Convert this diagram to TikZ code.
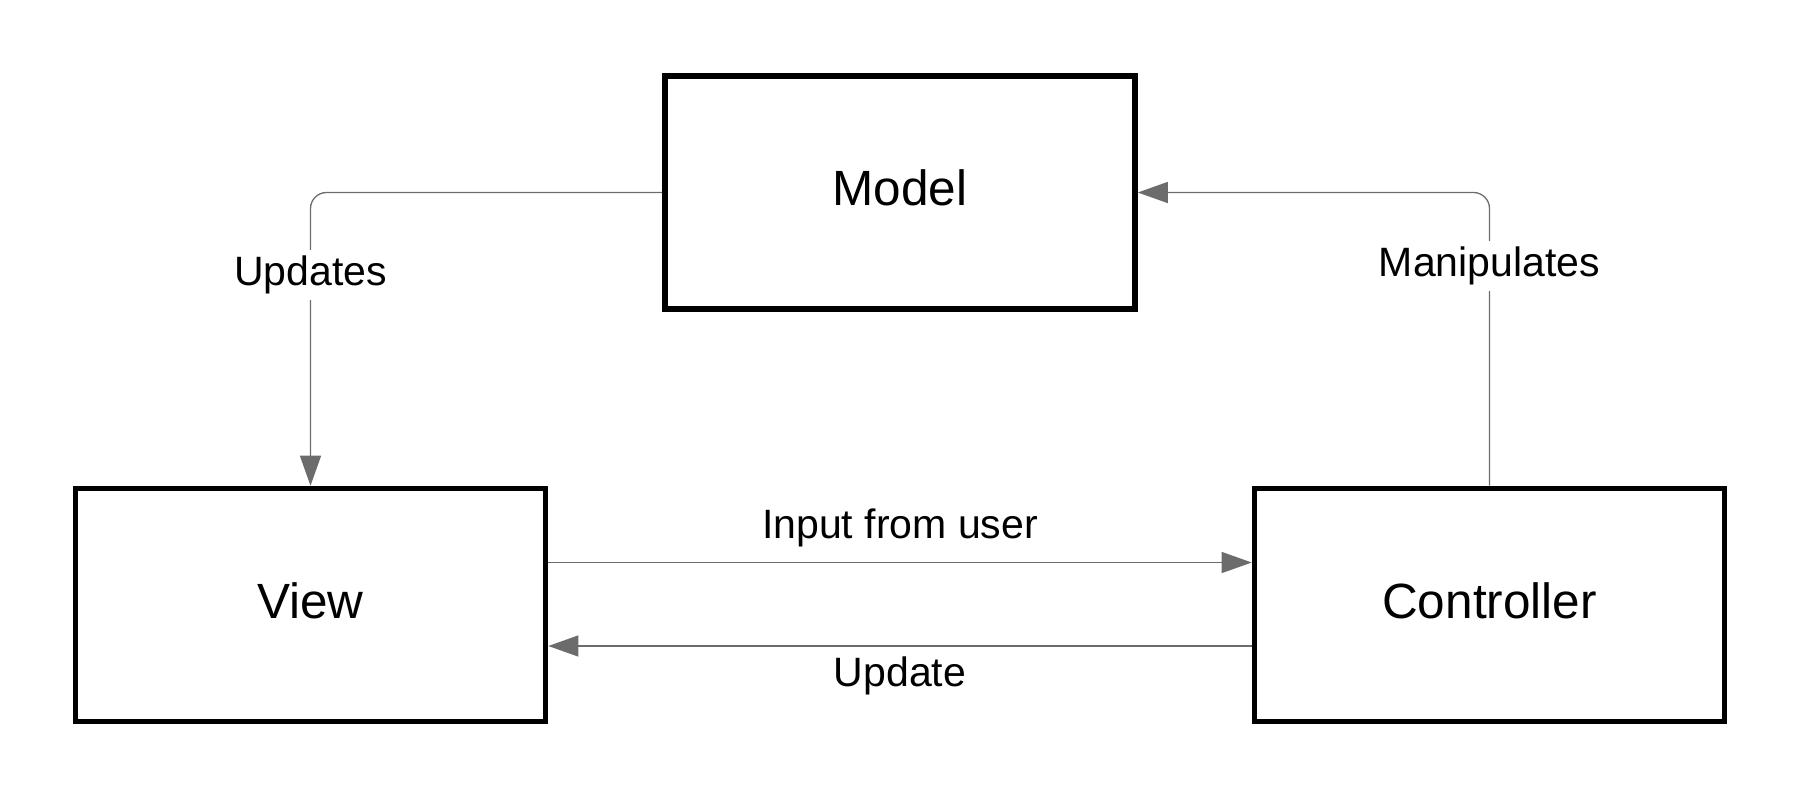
\documentclass[tikz,border=0pt]{standalone}
\usepackage{fontspec}
\setmainfont{Liberation Sans}
\usetikzlibrary{arrows.meta}
\definecolor{wire}{RGB}{108,108,108}
\begin{document}
\begin{tikzpicture}[x=0.5pt,y=-0.5pt,
  block/.style={draw=black, line width=2.8pt, minimum width=235pt,
    minimum height=116.5pt, inner sep=0pt, text height=17.7pt, text depth=4.6pt,
    font=\fontsize{24.75}{29}\selectfont},
  link/.style={draw=wire, line width=0.65pt,
    -{Triangle[length=15pt,width=10.5pt,fill=wire]}},
  tag/.style={font=\fontsize{20.5}{24}\selectfont, text=black, inner sep=3pt},
]
\useasboundingbox (0,0) rectangle (1800,799);

% the three MVC components
\node[block] (model) at (900,192.5) {Model};
\node[block] (view)  at (310.5,605) {View};
\node[block] (ctrl)  at (1489.5,605) {Controller};

% model -> view
\draw[link, rounded corners=8pt] (model.west) -| (view.north);
\node[tag, fill=white] (lupdates) at (310.5,275) {Updates};

% controller -> model
\draw[link, rounded corners=8pt] (ctrl.north) |- (model.east);
\node[tag, fill=white] (lmanip) at (1489.5,266) {Manipulates};

% view <-> controller
\draw[link] ([yshift=21.25pt]view.east) -- ([yshift=21.25pt]ctrl.west);
\node[tag] (linput) at (900,528) {Input from user};
\draw[link] ([yshift=-20.5pt]ctrl.west) -- ([yshift=-20.5pt]view.east);
\node[tag] (lupdate) at (900,676) {Update};
\end{tikzpicture}
\end{document}
